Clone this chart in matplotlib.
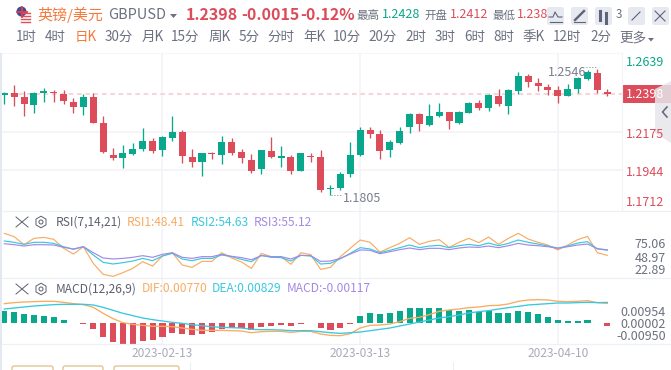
import matplotlib
matplotlib.use("Agg")
import matplotlib.pyplot as plt
from matplotlib.patches import Circle, FancyBboxPatch, Polygon, Rectangle, RegularPolygon
import numpy as np

plt.rcParams['font.family'] = ['Noto Sans CJK SC', 'DejaVu Sans']

# ---------- data ----------
opens = [1.2392,1.2404,1.2380,1.2333,1.2402,1.2410,1.2398,1.2351,1.2322,1.2380,1.2228,1.2040,1.2022,1.2046,1.2075,1.2122,
         1.2069,1.2140,1.2175,1.2028,1.1999,1.2052,1.2040,1.2116,1.2057,1.2010,1.1958,1.2063,1.2022,1.2028,1.1946,1.2034,
         1.2028,1.1840,1.1846,1.1928,1.2040,1.2187,1.2163,1.2069,1.2110,1.2204,1.2281,1.2216,1.2269,1.2292,1.2228,1.2286,
         1.2345,1.2316,1.2386,1.2328,1.2416,1.2504,1.2463,1.2439,1.2421,1.2386,1.2427,1.2486,1.2521,1.2412]
closes = [1.2406,1.2380,1.2339,1.2404,1.2416,1.2404,1.2357,1.2322,1.2380,1.2228,1.2057,1.2022,1.2052,1.2075,1.2122,1.2063,
          1.2146,1.2175,1.2034,1.1999,1.2052,1.2046,1.2116,1.2052,1.2022,1.1946,1.2069,1.2028,1.2034,1.1946,1.2052,1.2028,
          1.1834,1.1846,1.1928,1.2040,1.2187,1.2163,1.2063,1.2116,1.2181,1.2281,1.2222,1.2269,1.2292,1.2239,1.2292,1.2345,
          1.2316,1.2392,1.2339,1.2421,1.2504,1.2468,1.2445,1.2421,1.2386,1.2427,1.2492,1.2527,1.2421,1.2398]
highs = [1.2412,1.2451,1.2416,1.2410,1.2433,1.2421,1.2421,1.2374,1.2398,1.2404,1.2269,1.2081,1.2099,1.2110,1.2198,1.2140,
         1.2151,1.2269,1.2187,1.2075,1.2052,1.2057,1.2151,1.2140,1.2075,1.2046,1.2069,1.2146,1.2093,1.2040,1.2052,1.2052,
         1.2069,1.1864,1.1940,1.2116,1.2204,1.2204,1.2187,1.2128,1.2204,1.2286,1.2286,1.2339,1.2345,1.2292,1.2298,1.2351,
         1.2363,1.2398,1.2427,1.2427,1.2527,1.2515,1.2492,1.2457,1.2445,1.2457,1.2498,1.2539,1.2546,1.2428]
lows = [1.2339,1.2328,1.2269,1.2286,1.2351,1.2351,1.2339,1.2286,1.2275,1.2228,1.2052,1.2010,1.1963,1.2040,1.2063,1.2052,
        1.2034,1.2122,1.1993,1.1969,1.1917,1.2016,1.1987,1.2040,1.1993,1.1934,1.1928,1.2022,1.1969,1.1928,1.1946,1.1999,
        1.1823,1.1805,1.1834,1.1911,1.2034,1.2140,1.2016,1.2028,1.2104,1.2169,1.2181,1.2210,1.2263,1.2193,1.2222,1.2286,
        1.2304,1.2298,1.2328,1.2281,1.2398,1.2439,1.2416,1.2392,1.2345,1.2386,1.2404,1.2480,1.2404,1.2388]

rsi1 = [75.1,71.0,61.3,69.0,70.2,67.8,56.9,50.0,58.9,38.7,25.3,22.9,27.4,32.6,40.7,35.4,47.6,51.6,36.7,33.8,41.1,41.1,
        51.6,45.2,40.3,32.6,50.8,46.8,46.8,37.5,51.6,49.2,31.4,33.8,46.8,56.9,67.0,64.2,52.4,57.7,62.9,69.8,61.7,65.4,
        67.4,58.1,64.2,69.0,63.8,70.6,61.7,69.0,75.1,68.2,64.2,60.9,54.9,60.9,67.4,71.4,51.6,48.4]
rsi2 = [65.8,64.2,61.7,64.2,64.2,62.9,58.9,55.7,58.9,48.8,39.9,37.9,39.5,41.5,44.7,41.9,47.6,50.8,43.9,41.9,44.7,44.7,
        48.8,46.8,43.5,40.7,48.4,46.0,45.6,41.5,48.4,47.6,37.9,38.7,44.3,50.8,57.7,56.1,51.6,54.5,57.7,60.9,57.7,59.7,
        60.5,57.7,60.1,61.7,60.1,63.3,60.1,62.9,67.0,64.2,62.1,59.7,57.3,59.7,63.3,65.0,56.1,54.6]
rsi3 = [62.5,61.3,59.7,61.3,61.3,60.9,58.1,56.1,58.9,51.6,45.2,44.0,44.7,46.0,48.0,46.0,49.6,51.6,46.0,44.7,46.8,46.8,
        49.6,47.2,45.6,43.1,48.0,46.8,46.8,44.0,48.4,48.0,41.1,41.5,44.7,50.0,54.9,54.5,50.4,52.8,55.3,57.3,55.3,56.9,
        56.9,55.3,57.3,58.5,58.1,59.7,57.7,60.1,62.9,60.9,60.1,58.9,56.9,58.9,60.9,62.1,56.5,55.1]

# MACD pane, in units of 0.00001
macd_hist = [475,436,358,319,280,241,124,20,-20,-228,-540,-735,-813,-813,-696,-657,-540,-384,-423,-462,-423,-345,
             -228,-189,-189,-267,-150,-111,-72,-111,-20,20,-189,-267,-189,-20,280,397,358,397,475,592,592,592,592,
             514,475,514,436,475,397,397,475,436,358,241,124,85,85,124,20,-117]
macd_dif = [760,800,826,839,852,852,813,760,722,618,384,176,20,-46,-85,-124,-124,-137,-189,-241,-280,-280,-280,-293,
            -306,-371,-332,-319,-319,-358,-319,-319,-423,-475,-488,-410,-189,-85,-72,-33,59,189,228,332,462,514,553,
            605,631,683,696,748,852,904,917,904,852,839,852,878,800,770]
macd_dea = [552,592,631,670,696,722,735,735,735,709,618,501,384,293,202,137,85,33,-7,-59,-98,-137,-163,-176,-189,-241,
            -254,-254,-267,-293,-293,-293,-332,-371,-397,-371,-345,-293,-241,-189,-111,-33,46,124,202,254,319,397,449,
            488,553,605,657,709,735,761,787,787,800,813,800,810]

date_positions = [16, 36, 56]
date_labels = ['2023-02-13', '2023-03-13', '2023-04-10']
tabs = ['1时','4时','日K','30分','月K','15分','周K','5分','分时','年K','10分','20分','2时','3时','6时','8时','季K','12时','2分','更多']
tab_x = [26,55,86,118.5,153,185.5,220,249,281,314,346.5,383,416,445,474.5,503.5,534,567,600.5,632.5]

RED, GREEN = '#dd4c5a', '#09a88c'
ORANGE, CYAN, PURPLE = '#f9ab62', '#38c8e0', '#a389e6'
GRID = '#f4f4f8'
W, H = 671, 370
dpi = 100
fig = plt.figure(figsize=(W/dpi, H/dpi), dpi=dpi, facecolor='white')

def pane(left, top, right, bottom):
    a = fig.add_axes([left/W, 1-bottom/H, (right-left)/W, (bottom-top)/H])
    a.set_facecolor('none')
    for s in a.spines.values():
        s.set_visible(False)
    return a

x = np.arange(len(opens))
xlim = (-0.233, 62.49)
o, c, hi, lo = map(np.array, (opens, closes, highs, lows))
up = c >= o

# ---------- price pane ----------
ax = pane(2, 53, 622, 211)
ax.set_xlim(*xlim)
ax.set_ylim(1.1711, 1.2639)
ax.set_xticks(date_positions)
ax.set_yticks([1.2175, 1.1950])
ax.tick_params(length=0, labelbottom=False, labelleft=False)
ax.grid(True, color=GRID, lw=1.2)
ax.set_axisbelow(True)
ax.axhline(closes[-1], color='#f8d5d9', lw=1.5, dashes=(2.2, 1.8), zorder=1)
colors = [GREEN if u else RED for u in up]
ax.vlines(x, lo, hi, colors=colors, lw=0.95, zorder=2)
ax.bar(x, np.maximum(np.abs(c-o), 0.0004), bottom=np.minimum(o, c), width=0.71, color=colors, lw=0, zorder=3)

# ---------- RSI pane ----------
ax2 = pane(2, 211, 622, 278)
ax2.set_xlim(*xlim)
ax2.set_ylim(20.9, 102.2)
ax2.set_xticks(date_positions)
ax2.set_yticks([])
ax2.tick_params(length=0, labelbottom=False)
ax2.grid(True, axis='x', color=GRID, lw=1.2)
ax2.set_axisbelow(True)
ax2.plot(x, rsi1, color=ORANGE, lw=0.85)
ax2.plot(x, rsi2, color=CYAN, lw=0.85)
ax2.plot(x, rsi3, color=PURPLE, lw=0.85)

# ---------- MACD pane ----------
ax3 = pane(2, 278, 622, 344)
ax3.set_xlim(*xlim)
ax3.set_ylim(-812, 1761)
ax3.set_xticks(date_positions)
ax3.set_xticklabels(date_labels, fontsize=8.6, color='#a9abb9')
ax3.set_yticks([])
ax3.tick_params(length=0, pad=2.2)
ax3.grid(True, axis='x', color=GRID, lw=1.2)
ax3.set_axisbelow(True)
hist = np.array(macd_hist)
ax3.bar(x, hist, width=0.62, color=[GREEN if v > 0 else RED for v in hist], lw=0, zorder=2)
ax3.plot(x, macd_dif, color=ORANGE, lw=0.95, zorder=3)
ax3.plot(x, macd_dea, color=CYAN, lw=0.95, zorder=3)

# ---------- page furniture, in pixel coordinates ----------
ui = fig.add_axes([0, 0, 1, 1], zorder=10)
ui.set_xlim(0, W)
ui.set_ylim(H, 0)
ui.axis('off')

def txt(px, py, s, color, size_px, ha='left', **kw):
    ui.text(px, py, s, color=color, fontsize=size_px*72/dpi, ha=ha, va='center', **kw)

ui.add_patch(Rectangle((0, 53), 2, H-53, fc='#e4e9f1', lw=0))
for yy in (211, 278, 344):
    ui.plot([2, W], [yy, yy], color='#eff0f5', lw=0.9)
ui.plot([2, 622], [53, 53], color='#f6f6f9', lw=0.8)
ui.plot([622, 622], [53, 211], color='#f2f2f6', lw=0.8)

# flag
ui.add_patch(Circle((25, 17), 6, fc='white', ec='#e6e6ee', lw=0.3))
for yy in (13, 16, 19, 22):
    ui.plot([20.5, 29.5], [yy, yy], color='#e0505a', lw=1.0)
ui.add_patch(Circle((21.5, 11.5), 5, fc='#3a4f9a', lw=0))
ui.plot([16.5, 26.5], [11.5, 11.5], color='#e0404a', lw=1.3)
ui.plot([21.5, 21.5], [6.5, 16.5], color='#e0404a', lw=1.3)

# header
txt(37, 15, '英镑/美元', '#f5793b', 15)
txt(108, 15, 'GBPUSD', '#6c7080', 14.5)
ui.add_patch(Polygon([[170, 14], [177, 14], [173.5, 18]], fc='#6c7080', lw=0))
txt(186, 15, '1.2398', RED, 16, fontweight='bold')
txt(241, 15, '-0.0015', RED, 16, fontweight='bold')
txt(300, 15, '-0.12%', RED, 16, fontweight='bold')
txt(356, 15, '最高', '#6c7080', 11.5)
txt(382, 15, '1.2428', GREEN, 12.5)
txt(424, 15, '开盘', '#6c7080', 11.5)
txt(450, 15, '1.2412', RED, 12.5)
txt(492, 15, '最低', '#6c7080', 11.5)
txt(517, 15, '1.2385', RED, 12.5)
txt(616, 15, '3', '#6c7080', 11.5)

# toolbar buttons
for bx in (546, 570, 594, 627, 651):
    ui.add_patch(FancyBboxPatch((bx+1, 7), 17, 18, boxstyle='round,pad=0,rounding_size=2', fc='#e6e9f0', lw=0, zorder=3))
ic = dict(color='#5f6478', lw=0.8, zorder=4)
ui.plot([549, 553, 555, 558, 562], [17, 17, 12, 17, 17], **ic)
ui.plot([550, 562], [22, 22], **ic)
ui.plot([575, 584], [20, 11], color='#5f6478', lw=1.7, zorder=4)
ui.plot([574, 585], [22, 22], **ic)
ui.plot([600, 600], [11, 20], color='#5f6478', lw=2.2, zorder=4)
ui.plot([606, 606], [13, 23], color='#5f6478', lw=2.2, zorder=4)
ui.plot([632, 640], [20, 12], **ic)
ui.plot([655, 665], [11, 21], **ic)
ui.plot([655, 665], [21, 11], **ic)

# interval tabs
for label, px in zip(tabs, tab_x):
    txt(px, 37, label, '#f5793b' if label == '日K' else '#6c7080', 13.5, ha='center')
ui.add_patch(Polygon([[648, 38], [654, 38], [651, 41.5]], fc='#6c7080', lw=0))

# price scale
ui.add_patch(Rectangle((622, 85), 49, 18, fc=RED, lw=0))
ui.add_patch(Polygon([[655, 89], [671, 81], [671, 143], [655, 133]], fc='#e6e6ec', alpha=0.85, lw=0, zorder=4))
ui.plot([667, 662.5, 667], [107, 112, 117], color='#686c80', lw=1.2, zorder=5)
txt(664, 63, '1.2639', GREEN, 12.5, ha='right')
txt(664, 94, '1.2398', 'white', 12.5, ha='right', zorder=6)
txt(664, 135, '1.2175', RED, 12.5, ha='right', zorder=6)
txt(664, 173, '1.1944', RED, 12.5, ha='right')
txt(664, 202, '1.1712', RED, 12.5, ha='right')

# extreme labels
txt(343, 198, '1.1805', '#7a7d8e', 12.5)
txt(548, 72, '1.2546', '#7a7d8e', 12.5)
ui.plot([331, 341], [195, 195], color='#7a7d8e', lw=0.7, ls=(0, (1, 2)))
ui.plot([586, 597], [67, 67], color='#7a7d8e', lw=0.7, ls=(0, (1, 2)))

# indicator headers
def head_icons(py):
    ui.plot([16, 28], [py-5, py+5], color='#5c6070', lw=0.7)
    ui.plot([16, 28], [py+5, py-5], color='#5c6070', lw=0.7)
    ui.add_patch(RegularPolygon((41, py), 6, radius=5.8, fc='none', ec='#5c6070', lw=0.7))
    ui.add_patch(Circle((41, py), 2, fc='none', ec='#5c6070', lw=0.7))

head_icons(222)
txt(56, 222, 'RSI(7,14,21)', '#5c6070', 12)
txt(127, 222, 'RSI1:48.41', ORANGE, 12)
txt(191, 222, 'RSI2:54.63', CYAN, 12)
txt(254, 222, 'RSI3:55.12', PURPLE, 12)
head_icons(289)
txt(56, 289, 'MACD(12,26,9)', '#5c6070', 12)
txt(142, 289, 'DIF:0.00770', ORANGE, 12)
txt(212, 289, 'DEA:0.00829', CYAN, 12)
txt(287, 289, 'MACD:-0.00117', PURPLE, 12)

# indicator scales
for py, s in zip((244, 258, 270), ('75.06', '48.97', '22.89')):
    txt(666, py, s, '#6c7080', 12.5, ha='right')
for py, s in zip((312, 324, 336), ('0.00954', '0.00002', '-0.00950')):
    txt(666, py, s, '#6c7080', 12.5, ha='right')

# buttons cut off by the bottom edge
for x0, x1 in ((12, 53), (63, 103), (114, 179)):
    ui.add_patch(FancyBboxPatch((x0, 366), x1-x0, 10, boxstyle='round,pad=0,rounding_size=2', fc='white', ec='#e0b878', lw=0.8))
ui.plot([190, 190], [362, 370], color='#eceef3', lw=0.8)
ui.plot([453, 453], [362, 370], color='#eceef3', lw=0.8)

fig.savefig('out.png', dpi=dpi)
